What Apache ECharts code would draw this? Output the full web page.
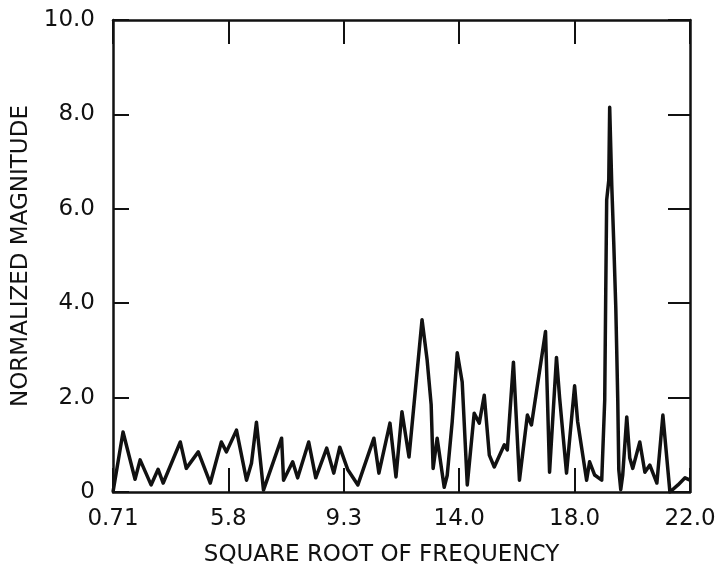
<!DOCTYPE html>
<html>
<head>
<meta charset="utf-8">
<script src="https://cdn.jsdelivr.net/npm/echarts@6/dist/echarts.min.js"></script>
<style>
  html, body { margin: 0; padding: 0; background: #fff; }
  #chart { width: 715px; height: 567px; }
</style>
</head>
<body>
<div id="chart"></div>
<script>
// x position in units of the (evenly spaced) tick intervals, 0..5
const xPos = [
  0, 0.087, 0.191, 0.235, 0.330, 0.391, 0.435, 0.583, 0.635, 0.739,
  0.843, 0.939, 0.983, 1.070, 1.157, 1.200, 1.243, 1.304, 1.461, 1.478,
  1.557, 1.600, 1.696, 1.757, 1.852, 1.913, 1.965, 2.035, 2.122, 2.261,
  2.304, 2.400, 2.452, 2.504, 2.565, 2.678, 2.722, 2.757, 2.774, 2.809,
  2.870, 2.896, 2.939, 2.983, 3.026, 3.070, 3.130, 3.174, 3.217, 3.261,
  3.304, 3.391, 3.417, 3.470, 3.522, 3.591, 3.626, 3.748, 3.783, 3.843,
  3.870, 3.930, 4.000, 4.026, 4.104, 4.130, 4.174, 4.235, 4.261, 4.270,
  4.278, 4.296, 4.304, 4.322, 4.339, 4.357, 4.365, 4.374, 4.383, 4.400,
  4.417, 4.452, 4.478, 4.504, 4.565, 4.609, 4.652, 4.713, 4.765, 4.826,
  4.896, 4.957, 5.0
]
// normalized magnitude
const magnitude = [
  0, 1.27, 0.27, 0.68, 0.15, 0.48, 0.19, 1.06, 0.50, 0.85,
  0.19, 1.06, 0.85, 1.31, 0.25, 0.61, 1.48, 0.04, 1.14, 0.25,
  0.64, 0.30, 1.06, 0.30, 0.93, 0.40, 0.95, 0.47, 0.15, 1.14,
  0.40, 1.46, 0.32, 1.70, 0.74, 3.65, 2.80, 1.85, 0.50, 1.14,
  0.10, 0.35, 1.48, 2.95, 2.33, 0.15, 1.67, 1.46, 2.05, 0.78,
  0.53, 1.00, 0.89, 2.75, 0.25, 1.63, 1.42, 3.40, 0.42, 2.85,
  2.00, 0.40, 2.25, 1.50, 0.25, 0.64, 0.36, 0.25, 1.95, 4.28,
  6.19, 6.60, 8.15, 6.50, 5.30, 3.90, 3.00, 1.95, 0.47, 0.05,
  0.36, 1.59, 0.72, 0.50, 1.06, 0.42, 0.57, 0.19, 1.63, 0,
  0.15, 0.30, 0.25
]
const xTickLabels = ['0.71', '5.8', '9.3', '14.0', '18.0', '22.0']
const yTickLabels = ['0', '2.0', '4.0', '6.0', '8.0', '10.0']

const font = 'DejaVu Sans'
const ink = '#111'
// 边框线，不要贴到另一根轴的 0 上
const axisLine = { show: true, onZero: false, lineStyle: { color: ink, width: 2.5 } }

const option = {
  backgroundColor: '#fff',
  animation: false,
  // 固定绘图区位置，不让标签把它挤小
  grid: { left: 113, right: 25, top: 20, bottom: 75, outerBoundsMode: 'none' },
  xAxis: [
    {
      type: 'value',
      min: 0,
      max: 5,
      interval: 1,
      position: 'bottom',
      name: 'SQUARE ROOT OF FREQUENCY',
      nameLocation: 'middle',
      nameGap: 52,
      nameTextStyle: { fontFamily: font, fontSize: 23, color: ink, padding: [0, 40, 0, 0] },
      axisLine: axisLine,
      axisTick: { inside: true, length: 24, lineStyle: { color: ink, width: 2 } },
      axisLabel: {
        margin: 16,
        fontFamily: font,
        fontSize: 23,
        color: ink,
        formatter: (v) => xTickLabels[Math.round(v)],
      },
      splitLine: { show: false },
    },
    {
      type: 'value',
      min: 0,
      max: 5,
      interval: 1,
      position: 'top',
      axisLine: axisLine,
      axisTick: { inside: true, length: 24, lineStyle: { color: ink, width: 2 } },
      axisLabel: { show: false },
      splitLine: { show: false },
    },
  ],
  yAxis: [
    {
      type: 'value',
      min: 0,
      max: 10,
      interval: 2,
      position: 'left',
      name: 'NORMALIZED MAGNITUDE',
      nameLocation: 'middle',
      nameGap: 80,
      nameTextStyle: { fontFamily: font, fontSize: 23, color: ink },
      axisLine: axisLine,
      axisTick: { inside: true, length: 16, lineStyle: { color: ink, width: 2 } },
      axisLabel: {
        margin: 18,
        fontFamily: font,
        fontSize: 23,
        color: ink,
        formatter: (v) => yTickLabels[Math.round(v / 2)],
      },
      splitLine: { show: false },
    },
    {
      type: 'value',
      min: 0,
      max: 10,
      interval: 2,
      position: 'right',
      axisLine: axisLine,
      axisTick: { inside: true, length: 22, lineStyle: { color: ink, width: 2 } },
      axisLabel: { show: false },
      splitLine: { show: false },
    },
  ],
  series: [
    {
      type: 'line',
      data: xPos.map((x, i) => [x, magnitude[i]]),
      symbol: 'none',
      lineStyle: { color: ink, width: 3.5, join: 'round' },
      clip: true,
    },
  ],
}

const myChart = echarts.init(document.getElementById('chart'))
myChart.setOption(option)
</script>
</body>
</html>
